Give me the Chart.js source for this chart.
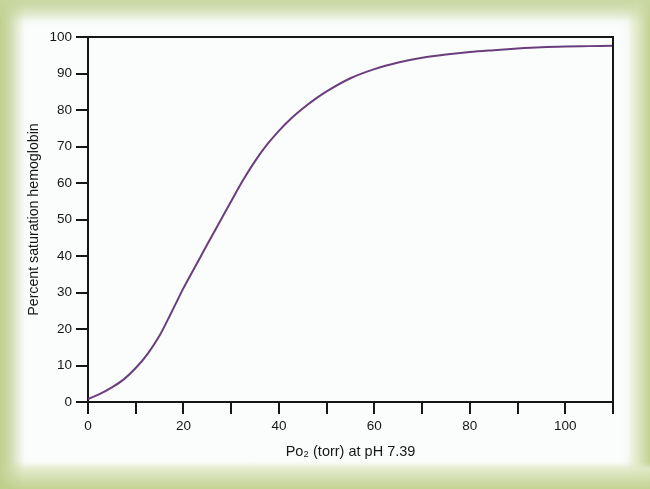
<!DOCTYPE html>
<html>
<head>
<meta charset="utf-8">
<script src="https://cdn.jsdelivr.net/npm/chart.js@4/dist/chart.umd.min.js"></script>
<style>
html,body{margin:0;padding:0;}
#wrap{position:relative;width:650px;height:489px;background:#fbfdfd;
  box-shadow: inset 0 0 22px 6px rgba(190,206,140,0.95);overflow:hidden;}
#wrap:before{content:"";position:absolute;left:0;top:0;right:0;bottom:0;
  background:
   linear-gradient(to bottom, rgba(200,214,160,0.9) 0px, rgba(251,253,253,0) 22px),
   linear-gradient(to right, rgba(190,206,140,0.9) 0px, rgba(251,253,253,0) 24px),
   linear-gradient(to top, rgba(196,210,148,1) 0px, rgba(226,234,200,0.9) 20px, rgba(251,253,253,0) 27px),
   linear-gradient(to left, rgba(196,210,148,1) 0px, rgba(226,234,200,0.9) 14px, rgba(251,253,253,0) 22px);}
canvas{position:absolute;left:0;top:0;}
</style>
</head>
<body>
<div id="wrap"><canvas id="c" width="650" height="489"></canvas></div>
<script>
const po2 =        [0, 2.5, 5, 7.5, 10, 12.5, 15, 17.5, 20, 22.5, 25, 27.5, 30, 32.5, 35, 37.5, 40, 42.5, 45, 47.5, 50, 55, 60, 65, 70, 75, 80, 85, 90, 95, 100, 105, 110];
const saturation = [0.8, 2.2, 4.0, 6.2, 9.3, 13.2, 18.2, 24.6, 31.2, 37.2, 43.2, 49.1, 55.0, 60.8, 66.0, 70.5, 74.3, 77.6, 80.4, 82.9, 85.1, 88.7, 91.2, 93.0, 94.3, 95.2, 95.9, 96.4, 96.85, 97.2, 97.4, 97.5, 97.6];
const xTitle = 'Po\u2082 (torr) at pH 7.39';
const yTitle = 'Percent saturation hemoglobin';

const points = po2.map((x, i) => ({x: x, y: saturation[i]}));
const FONT = 'Liberation Sans, Arial, Helvetica, sans-serif';
const INK = '#161616';

const boxPlugin = {
  id: 'box',
  afterDraw(chart) {
    const a = chart.chartArea, ctx = chart.ctx;
    ctx.save();
    ctx.strokeStyle = INK;
    ctx.lineWidth = 2;
    ctx.beginPath();
    ctx.moveTo(a.left, a.top);
    ctx.lineTo(a.right, a.top);
    ctx.lineTo(a.right, a.bottom);
    ctx.stroke();
    ctx.restore();
  }
};

new Chart(document.getElementById('c'), {
  type: 'line',
  data: {
    datasets: [{
      data: points,
      borderColor: '#6a3e7e',
      borderWidth: 2,
      pointRadius: 0,
      fill: false,
      cubicInterpolationMode: 'monotone'
    }]
  },
  options: {
    responsive: false,
    animation: false,
    events: [],
    layout: {padding: {left: 22, right: 37, top: 37, bottom: 24}},
    plugins: {legend: {display: false}, tooltip: {enabled: false}},
    scales: {
      x: {
        type: 'linear', min: 0, max: 110,
        afterFit(s) { s.height = 63; },
        border: {display: true, color: INK, width: 2},
        grid: {drawOnChartArea: false, drawTicks: true, tickLength: 12, color: INK, lineWidth: 2},
        ticks: {stepSize: 10, color: INK, font: {family: FONT, size: 13.5}, padding: 4,
          maxRotation: 0, autoSkip: false,
          callback: v => (v % 20 === 0 && v <= 100) ? String(v) : ''},
        title: {display: true, text: xTitle, color: INK, font: {family: FONT, size: 14.5}, padding: {top: 4, bottom: 4}}
      },
      y: {
        type: 'linear', min: 0, max: 100,
        afterFit(s) { s.width = 66; },
        border: {display: true, color: INK, width: 2},
        grid: {drawOnChartArea: false, drawTicks: true, tickLength: 12, color: INK, lineWidth: 2},
        ticks: {stepSize: 10, color: INK, font: {family: FONT, size: 13.5}, padding: 4},
        title: {display: true, text: yTitle, color: INK, font: {family: FONT, size: 14.2}, padding: {top: 4, bottom: 4}}
      }
    }
  },
  plugins: [boxPlugin]
});
</script>
</body>
</html>
